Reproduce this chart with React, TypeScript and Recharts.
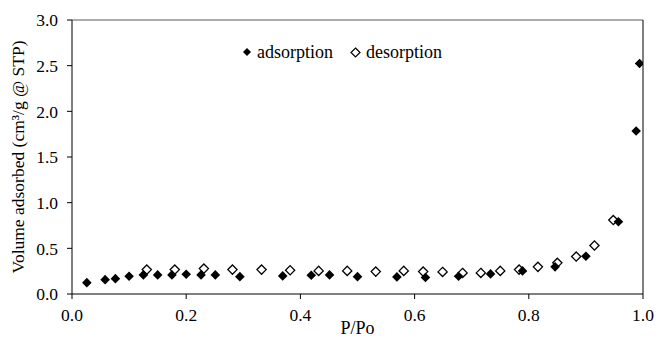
import React from "react";
import {
  ScatterChart,
  Scatter,
  XAxis,
  YAxis,
  ReferenceLine,
} from "recharts";

const adsorptionX = [0.026, 0.058, 0.076, 0.1, 0.125, 0.15, 0.175, 0.2, 0.226, 0.251, 0.294, 0.369, 0.419, 0.451, 0.5, 0.569, 0.619, 0.677, 0.733, 0.789, 0.846, 0.9, 0.957, 0.988, 0.994];
const adsorptionY = [0.124, 0.157, 0.168, 0.194, 0.209, 0.209, 0.209, 0.216, 0.209, 0.209, 0.19, 0.198, 0.205, 0.209, 0.19, 0.187, 0.18, 0.194, 0.22, 0.253, 0.297, 0.414, 0.791, 1.784, 2.524];

const desorptionX = [0.131, 0.18, 0.231, 0.281, 0.332, 0.382, 0.432, 0.482, 0.532, 0.581, 0.615, 0.649, 0.684, 0.716, 0.75, 0.783, 0.816, 0.85, 0.883, 0.915, 0.948];
const desorptionY = [0.267, 0.267, 0.278, 0.267, 0.267, 0.26, 0.253, 0.253, 0.245, 0.253, 0.245, 0.242, 0.231, 0.231, 0.253, 0.267, 0.297, 0.341, 0.41, 0.531, 0.81];

const xTicks = [0, 0.2, 0.4, 0.6, 0.8, 1.0];
const yTicks = [0, 0.5, 1.0, 1.5, 2.0, 2.5, 3.0];

const seriesNames = ["adsorption", "desorption"];

const adsorption = adsorptionX.map((x, i) => ({ x, y: adsorptionY[i] }));
const desorption = desorptionX.map((x, i) => ({ x, y: desorptionY[i] }));

const FONT = "'Liberation Serif', 'Times New Roman', serif";
const FS = 17.5;

const FilledDiamond = (props: any) => {
  const { cx, cy } = props;
  const r = 4.8;
  return (
    <polygon
      points={`${cx},${cy - r} ${cx + r},${cy} ${cx},${cy + r} ${cx - r},${cy}`}
      fill="#000"
      stroke="none"
    />
  );
};

const OpenDiamond = (props: any) => {
  const { cx, cy } = props;
  const r = 4.6;
  return (
    <polygon
      points={`${cx},${cy - r} ${cx + r},${cy} ${cx},${cy + r} ${cx - r},${cy}`}
      fill="none"
      stroke="#000"
      strokeWidth={1.3}
    />
  );
};

const tickStyle = { fontFamily: FONT, fontSize: FS, fill: "#000" } as const;

const XTick = (props: any) => {
  const { x, y, payload } = props;
  return (
    <text x={x} y={y} dy="0.71em" textAnchor="middle" style={tickStyle}>
      {Number(payload.value).toFixed(1)}
    </text>
  );
};

const YTick = (props: any) => {
  const { x, y, payload } = props;
  return (
    <text x={x} y={y} dy="0.355em" textAnchor="end" style={tickStyle}>
      {Number(payload.value).toFixed(1)}
    </text>
  );
};

const LegendBox = () => (
  <div
    style={{
      position: "absolute",
      left: 242,
      top: 42,
      display: "flex",
      alignItems: "center",
      fontFamily: FONT,
      fontSize: 18,
      lineHeight: "20px",
      color: "#000",
      whiteSpace: "nowrap",
    }}
  >
    <svg width={10} height={10} style={{ marginRight: 5 }}>
      <polygon points="5,1 9,5 5,9 1,5" fill="#000" />
    </svg>
    <span>{seriesNames[0]}</span>
    <svg width={11} height={11} style={{ marginLeft: 17, marginRight: 5 }}>
      <polygon points="5.5,1 10,5.5 5.5,10 1,5.5" fill="none" stroke="#000" strokeWidth={1.2} />
    </svg>
    <span>{seriesNames[1]}</span>
  </div>
);

export default function App() {
  return (
    <div
      style={{
        position: "absolute",
        left: 0,
        top: 0,
        width: 656,
        height: 337,
        background: "#fff",
        fontFamily: FONT,
      }}
    >
      <ScatterChart
        width={656}
        height={337}
        margin={{ top: 20, right: 13, bottom: 0, left: 0 }}
        style={{ fontFamily: FONT }}
      >
        <XAxis
          type="number"
          dataKey="x"
          domain={[0, 1]}
          ticks={xTicks}
          height={43}
          stroke="#000"
          tickSize={5}
          tickMargin={10}
          tick={<XTick />}
          allowDataOverflow
          label={{
            value: "P/Po",
            position: "insideBottom",
            offset: 3,
            style: { fill: "#000", fontSize: 18, fontFamily: FONT },
          }}
        />
        <YAxis
          type="number"
          dataKey="y"
          domain={[0, 3]}
          ticks={yTicks}
          width={72}
          stroke="#000"
          tickSize={5}
          tickMargin={9}
          tick={<YTick />}
          allowDataOverflow
          label={{
            value: "Volume adsorbed (cm³/g @ STP)",
            angle: -90,
            position: "insideLeft",
            offset: 18,
            style: { fill: "#000", fontSize: 17.5, fontFamily: FONT, textAnchor: "middle" },
          }}
        />
        <ReferenceLine y={3} stroke="#595959" strokeWidth={1} ifOverflow="visible" />
        <ReferenceLine x={1} stroke="#000" strokeWidth={1} ifOverflow="visible" />
        <Scatter
          name={seriesNames[0]}
          data={adsorption}
          shape={<FilledDiamond />}
          isAnimationActive={false}
        />
        <Scatter
          name={seriesNames[1]}
          data={desorption}
          shape={<OpenDiamond />}
          isAnimationActive={false}
        />
      </ScatterChart>
      <LegendBox />
    </div>
  );
}
